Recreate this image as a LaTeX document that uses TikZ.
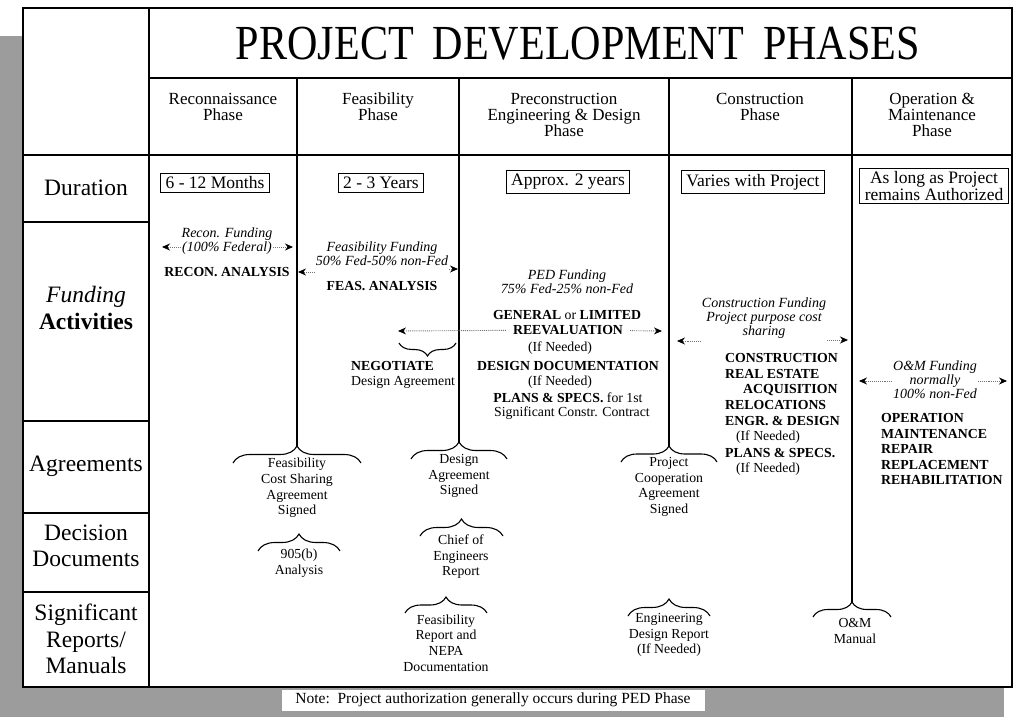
\documentclass[tikz,border=0pt]{standalone}
\usepackage{fontspec}
\setmainfont{Liberation Serif}
\usetikzlibrary{arrows.meta,decorations.pathreplacing}
\definecolor{bggray}{HTML}{9C9C9C}
\begin{document}
\begin{tikzpicture}[x=1pt,y=-1pt,
  frame/.style={line width=1.3pt},
  phaseline/.style={line width=1.5pt},
  brc/.style={decorate,decoration={brace,amplitude=#1},line width=1.1pt},
  brc/.default=16pt,
  fund/.style={font=\fontsize{14}{13.8}\selectfont\itshape, align=center, inner sep=1pt},
  act/.style={font=\fontsize{13.8}{15.5}\selectfont\bfseries, inner sep=1pt},
  plain/.style={font=\fontsize{13.8}{15.6}\selectfont, inner sep=1pt, align=center},
  hdr/.style={font=\fontsize{17}{16}\selectfont, align=center},
  lbl/.style={font=\fontsize{23.5}{26.5}\selectfont, align=center},
  durbox/.style={draw, line width=1pt, font=\fontsize{17.5}{16.5}\selectfont, inner xsep=5pt, inner ysep=3.5pt, align=center},
  farrow/.style={densely dotted, black!55, line width=0.9pt, -{Stealth[color=black,length=8pt,width=7pt]}},
]
\useasboundingbox (0,0) rectangle (1015,717);
% background
\fill[bggray] (0,36) rectangle (23,717);
\fill[bggray] (0,687) rectangle (1004,717);
\fill[white] (23,8) rectangle (1012,687);
% table frame
\draw[frame] (23,8) rectangle (1012,687);
\draw[frame] (149,8) -- (149,687);
\draw[frame] (149,78) -- (1012,78);
\draw[frame] (23,155) -- (1012,155);
\draw[frame] (23,222) -- (149,222);
\draw[frame] (23,421) -- (149,421);
\draw[frame] (23,513) -- (149,513);
\draw[frame] (23,592) -- (149,592);
% title and headers
\node (title) at (578,44) {\scalebox{0.86}[1]{\fontsize{49}{49}\selectfont PROJECT\hspace{0.45em}DEVELOPMENT\hspace{0.45em}PHASES}};
\node[hdr] (hRec) at (223,107) {Reconnaissance\\Phase};
\node[hdr] (hFea) at (378,107) {Feasibility\\Phase};
\node[hdr] (hPed) at (564,115) {Preconstruction\\Engineering \& Design\\Phase};
\node[hdr] (hCon) at (760,107) {Construction\\Phase};
\node[hdr] (hOM) at (932,115) {Operation \&\\Maintenance\\Phase};
% left labels
\node[lbl] (lDur) at (86,188) {Duration};
\node[lbl] (lFund) at (86,308) {{\itshape Funding}\\{\bfseries Activities}};
\node[lbl] (lAgr) at (86,466) {Agreements};
\node[lbl] (lDec) at (86,546) {Decision\\Documents};
\node[lbl] (lSig) at (86,639) {Significant\\Reports/\\Manuals};
% phase lines
\draw[phaseline] (297,78) -- (297,446);
\draw[phaseline] (459,78) -- (459,443);
\draw[phaseline] (669,78) -- (669,446);
\draw[phaseline] (852,78) -- (852,602);
% durations
\node[durbox] (dRec) at (215,183) {6 - 12 Months};
\node[durbox] (dFea) at (381,183) {2 - 3 Years};
\node[durbox] (dPed) at (568,182) {Approx. 2 years};
\node[durbox] (dCon) at (753,182) {Varies with Project};
\node[durbox] (dOM) at (934,186) {As long as Project\\remains Authorized};
% reconnaissance
\node[fund] (fRec) at (227,241) {Recon. Funding\\(100\% Federal)};
\coordinate (aRecL) at (162,247);
\coordinate (aRecR) at (293,247);
\draw[farrow] (fRec.west |- aRecL) -- (aRecL);
\draw[farrow] (fRec.east |- aRecR) -- (aRecR);
\node[act] (aRec) at (227,272) {RECON. ANALYSIS};
% feasibility
\node[fund] (fFea) at (382,254) {Feasibility Funding\\50\% Fed-50\% non-Fed};
\coordinate (aFeaL) at (298,272);
\coordinate (aFeaR) at (458,269);
\draw[farrow] (fFea.west |- aFeaL) -- (aFeaL);
\draw[farrow] (fFea.east |- aFeaR) -- (aFeaR);
\node[act] (aFea) at (382,286) {FEAS. ANALYSIS};
% PED
\node[fund] (fPed) at (567,282) {PED Funding\\75\% Fed-25\% non-Fed};
\node[font=\fontsize{13.8}{15.5}\selectfont, inner sep=1pt] (pGen) at (567,315) {\textbf{GENERAL} or \textbf{LIMITED}};
\node[act, inner xsep=7pt] (pReev) at (568,330) {REEVALUATION};
\coordinate (pL) at (398,331);
\coordinate (pR) at (662,331);
\draw[farrow] (pReev) -- (pL);
\draw[farrow] (pReev) -- (pR);
\node[plain] (pIf1) at (560,348) {(If Needed)};
\node[act] (pDes) at (568,366) {DESIGN DOCUMENTATION};
\node[plain] (pIf2) at (560,382) {(If Needed)};
\node[plain] (pPl) at (568,398) {\textbf{PLANS \& SPECS.} for 1st};
\node[plain] (pSig) at (572,413) {Significant Constr. Contract};
% negotiate
\draw[brc=13pt] (456,343) -- (399,343);
\node[plain, align=left, anchor=west] (neg) at (350,375) {{\bfseries NEGOTIATE}\\Design Agreement};
% construction
\node[fund] (fCon) at (764,318) {Construction Funding\\Project purpose cost\\sharing};
\coordinate (cL) at (677,341);
\coordinate (cR) at (848,340);
\draw[farrow] (fCon.west |- cL) -- (cL);
\draw[farrow] (fCon.east |- cR) -- (cR);
\node[act, anchor=west] (c1) at (724,358) {CONSTRUCTION};
\node[act, anchor=west] (c2) at (724,374) {REAL ESTATE};
\node[act, anchor=west] (c3) at (742,390) {ACQUISITION};
\node[act, anchor=west] (c4) at (724,405) {RELOCATIONS};
\node[act, anchor=west] (c5) at (724,421) {ENGR. \& DESIGN};
\node[plain] (c6) at (768,437) {(If Needed)};
\node[act, anchor=west] (c7) at (724,453) {PLANS \& SPECS.};
\node[plain] (c8) at (768,469) {(If Needed)};
% O&M
\node[fund] (fOM) at (935,380) {O\&M Funding\\normally\\100\% non-Fed};
\coordinate (oL) at (859,381);
\coordinate (oR) at (1007,381);
\draw[farrow] (fOM.west |- oL) -- (oL);
\draw[farrow] (fOM.east |- oR) -- (oR);
\node[act, anchor=west] (o1) at (880,418) {OPERATION};
\node[act, anchor=west] (o2) at (880,434) {MAINTENANCE};
\node[act, anchor=west] (o3) at (880,449) {REPAIR};
\node[act, anchor=west] (o4) at (880,465) {REPLACEMENT};
\node[act, anchor=west] (o5) at (880,480) {REHABILITATION};
% agreements
\draw[brc=17pt] (233,463) -- (361,463);
\node[plain] (agFeas) at (297,488) {Feasibility\\Cost Sharing\\Agreement\\Signed};
\draw[brc=17pt] (411,459) -- (507,459);
\node[plain] (agDes) at (459,476) {Design\\Agreement\\Signed};
\draw[brc=16pt] (621,462) -- (717,462);
\node[plain] (agPro) at (669,487) {Project\\Cooperation\\Agreement\\Signed};
% decision documents
\draw[brc=17pt] (258,551) -- (340,551);
\node[plain] (dd905) at (299,563) {905(b)\\Analysis};
\draw[brc=17pt] (420,536) -- (503,536);
\node[plain] (ddChief) at (461,557) {Chief of\\Engineers\\Report};
% reports
\draw[brc=16pt] (405,613) -- (487,613);
\node[plain] (srFeas) at (446,643) {Feasibility\\Report and\\NEPA\\Documentation};
\draw[brc=17pt] (628,616) -- (710,616);
\node[plain] (srEng) at (669,635) {Engineering\\Design Report\\(If Needed)};
\draw[brc=15pt] (813,617) -- (891,617);
\node[plain] (srOM) at (855,631) {O\&M\\Manual};
% note
\node[fill=white, font=\fontsize{15.5}{15.5}\selectfont, minimum width=423pt, minimum height=21pt, inner sep=0pt] (note) at (493,700) {Note:\ \ Project authorization generally occurs during PED Phase};
\end{tikzpicture}
\end{document}
